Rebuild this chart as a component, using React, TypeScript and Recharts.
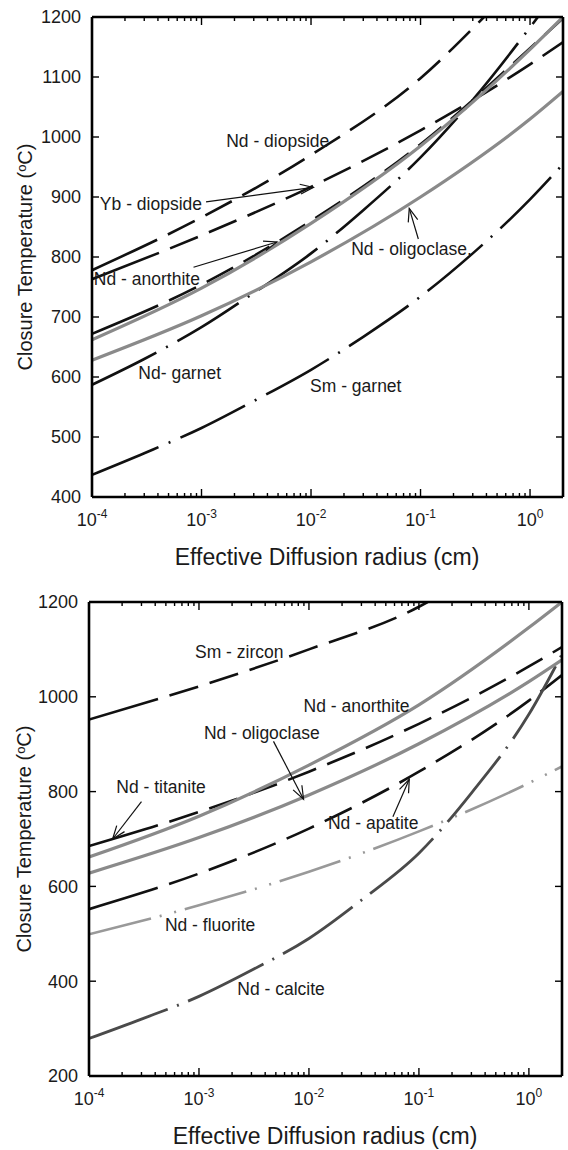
import React from 'react';
import { LineChart, Line, XAxis, YAxis, ReferenceLine, ReferenceDot } from 'recharts';

const FONT = '"Liberation Sans", Arial, Helvetica, sans-serif';

// ---------- axes ----------
const xMajorTicks = [1e-4, 1e-3, 1e-2, 1e-1, 1];
const xTickExponents = ['-4', '-3', '-2', '-1', '0'];
const xMinorMultipliers = [2, 3, 4, 5, 6, 7, 8, 9];
const xDomain: [number, number] = [1e-4, 2];
const topYTicks = [400, 500, 600, 700, 800, 900, 1000, 1100, 1200];
const bottomYTicks = [200, 400, 600, 800, 1000, 1200];
const xTitle = 'Effective Diffusion radius (cm)';

// ---------- top panel series: [radius (cm), closure T (°C)] ----------
const topNdDiopside: [number, number][] = [[1e-4, 778], [1e-3, 866], [1e-2, 970], [1e-1, 1098], [0.38, 1200]];
const topYbDiopside: [number, number][] = [[1e-4, 763], [1e-3, 836], [1e-2, 917], [1e-1, 1011], [1, 1121], [2, 1158]];
const topBlackDash: [number, number][] = [[1e-4, 672], [1e-3, 754], [1e-2, 860], [1e-1, 988], [1, 1148], [2, 1198]];
const topNdAnorthite: [number, number][] = [[1e-4, 662], [1e-3, 748], [1e-2, 856], [1e-1, 985], [1, 1146], [2, 1200]];
const topNdOligoclase: [number, number][] = [[1e-4, 628], [1e-3, 702], [1e-2, 792], [1e-1, 900], [1, 1030], [2, 1076]];
const topNdGarnet: [number, number][] = [[1e-4, 587], [3e-4, 630], [1e-3, 683], [3e-3, 740], [1e-2, 806], [3e-2, 878], [1e-1, 966], [3e-1, 1062], [1.18, 1200]];
const topSmGarnet: [number, number][] = [[1e-4, 437], [3e-4, 473], [1e-3, 515], [3e-3, 560], [1e-2, 612], [3e-2, 667], [1e-1, 734], [3e-1, 806], [1, 896], [2, 955]];

// ---------- bottom panel series ----------
const botSmZircon: [number, number][] = [[1e-4, 952], [1e-3, 1022], [1e-2, 1100], [1e-1, 1190], [0.12, 1200]];
const botNdAnorthite: [number, number][] = [[1e-4, 662], [1e-3, 748], [1e-2, 856], [1e-1, 983], [1, 1146], [2, 1200]];
const botNdOligoclase: [number, number][] = [[1e-4, 628], [1e-3, 703], [1e-2, 793], [1e-1, 901], [1, 1032], [2, 1078]];
const botNdTitanite: [number, number][] = [[1e-4, 685], [1e-3, 757], [1e-2, 842], [1e-1, 943], [1, 1064], [2, 1105]];
const botNdApatite: [number, number][] = [[1e-4, 552], [1e-3, 627], [1e-2, 722], [1e-1, 842], [1, 992], [2, 1046]];
const botNdFluorite: [number, number][] = [[1e-4, 499], [1e-3, 560], [1e-2, 631], [1e-1, 716], [1, 818], [2, 853]];
const botNdCalcite: [number, number][] = [[1e-4, 279], [3e-4, 320], [1e-3, 368], [3e-3, 423], [1e-2, 490], [3e-2, 571], [1e-1, 670], [3e-1, 797], [1, 963], [2, 1090]];

// ---------- annotations (data coordinates) ----------
const topLabels = [
  { text: 'Nd - diopside', x: 1.68e-3, y: 994 },
  { text: 'Yb - diopside', x: 1.18e-4, y: 889 },
  { text: 'Nd - anorthite', x: 1.04e-4, y: 764 },
  { text: 'Nd - oligoclase.', x: 0.0233, y: 814 },
  { text: 'Nd- garnet', x: 2.65e-4, y: 608 },
  { text: 'Sm - garnet', x: 9.8e-3, y: 586 },
];
const topArrows = [
  { from: [1.1e-3, 892], to: [0.0105, 916] },
  { from: [8.45e-4, 783], to: [4.89e-3, 825] },
  { from: [0.0955, 830], to: [0.0789, 881] },
];
const botLabels = [
  { text: 'Sm - zircon', x: 9.2e-4, y: 1096 },
  { text: 'Nd - anorthite', x: 8.93e-3, y: 981 },
  { text: 'Nd - oligoclase', x: 1.11e-3, y: 924 },
  { text: 'Nd - titanite', x: 1.77e-4, y: 810 },
  { text: 'Nd - apatite', x: 0.0149, y: 735 },
  { text: 'Nd - fluorite', x: 4.9e-4, y: 519 },
  { text: 'Nd - calcite', x: 2.23e-3, y: 385 },
];
const botArrows = [
  { from: [4.76e-3, 906], to: [8.93e-3, 784] },
  { from: [3.0e-4, 779], to: [1.64e-4, 700] },
  { from: [0.058, 747], to: [0.0817, 826] },
];

// ---------- styles ----------
const GRAY = '#8a8a8a';
const BLACK = '#111111';
const DASH = ['72 12', ...Array(24).fill('30 12')].join(' ');
const DASHDOT = '72 11 2 11';
const CALCITE_DASHDOT = '84 10 2 10';
const DASHDOTDOT = '64 9 2 13 2 9';

type Series = { name: string; pts: [number, number][]; color: string; width: number; dash?: string };

const topSeries: Series[] = [
  { name: 'Nd - diopside', pts: topNdDiopside, color: BLACK, width: 2.6, dash: DASH },
  { name: 'Yb - diopside', pts: topYbDiopside, color: BLACK, width: 2.6, dash: DASH },
  { name: 'black dash', pts: topBlackDash, color: BLACK, width: 2.6, dash: DASH },
  { name: 'Nd - garnet', pts: topNdGarnet, color: BLACK, width: 2.6, dash: DASHDOT },
  { name: 'Sm - garnet', pts: topSmGarnet, color: BLACK, width: 2.6, dash: DASHDOT },
  { name: 'Nd - anorthite', pts: topNdAnorthite, color: GRAY, width: 3.2 },
  { name: 'Nd - oligoclase', pts: topNdOligoclase, color: GRAY, width: 3.2 },
];
const botSeries: Series[] = [
  { name: 'Sm - zircon', pts: botSmZircon, color: BLACK, width: 2.6, dash: DASH },
  { name: 'Nd - titanite', pts: botNdTitanite, color: BLACK, width: 2.6, dash: DASH },
  { name: 'Nd - apatite', pts: botNdApatite, color: BLACK, width: 2.6, dash: DASH },
  { name: 'Nd - fluorite', pts: botNdFluorite, color: '#999999', width: 2.6, dash: DASHDOTDOT },
  { name: 'Nd - calcite', pts: botNdCalcite, color: '#4a4a4a', width: 2.8, dash: CALCITE_DASHDOT },
  { name: 'Nd - anorthite', pts: botNdAnorthite, color: GRAY, width: 3.2 },
  { name: 'Nd - oligoclase', pts: botNdOligoclase, color: GRAY, width: 3.2 },
];

const allXTicks: number[] = [];
xMajorTicks.forEach((m) => {
  allXTicks.push(m);
  xMinorMultipliers.forEach((k) => {
    if (m * k <= xDomain[1] + 1e-9) allXTicks.push(m * k);
  });
});

const majorIndex = (v: number) => xMajorTicks.findIndex((m) => Math.abs(v / m - 1) < 1e-6);

function BottomXTick(props: any) {
  const { x, y, payload } = props;
  const idx = majorIndex(payload.value);
  const major = idx >= 0;
  return (
    <g>
      <line x1={x} y1={y} x2={x} y2={y - (major ? 8 : 4)} stroke="#000" strokeWidth={1.4} />
      {major && (
        <text x={x} y={y + 29} textAnchor="middle" fontSize={18} fontFamily={FONT} fill="#1a1a1a">
          10<tspan dy={-8} fontSize={12}>{xTickExponents[idx]}</tspan>
        </text>
      )}
    </g>
  );
}

function TopXTick(props: any) {
  const { x, y, payload } = props;
  const major = majorIndex(payload.value) >= 0;
  return <line x1={x} y1={y} x2={x} y2={y + (major ? 8 : 4)} stroke="#000" strokeWidth={1.4} />;
}

function LeftYTick(props: any) {
  const { x, y, payload } = props;
  return (
    <g>
      <line x1={x} y1={y} x2={x + 7} y2={y} stroke="#000" strokeWidth={1.4} />
      <text x={x - 11} y={y} dy="0.36em" textAnchor="end" fontSize={18} fontFamily={FONT} fill="#1a1a1a">
        {payload.value}
      </text>
    </g>
  );
}

function RightYTick(props: any) {
  const { x, y } = props;
  return <line x1={x} y1={y} x2={x - 7} y2={y} stroke="#000" strokeWidth={1.4} />;
}

function ArrowShape(p: any) {
  const { x1, y1, x2, y2 } = p;
  const ang = Math.atan2(y2 - y1, x2 - x1);
  const L = 14;
  const a = 0.36;
  const ax = x2 - L * Math.cos(ang - a);
  const ay = y2 - L * Math.sin(ang - a);
  const bx = x2 - L * Math.cos(ang + a);
  const by = y2 - L * Math.sin(ang + a);
  return (
    <g>
      <line x1={x1} y1={y1} x2={x2} y2={y2} stroke="#111" strokeWidth={1.2} />
      <polyline points={`${ax},${ay} ${x2},${y2} ${bx},${by}`} fill="none" stroke="#111" strokeWidth={1.2} />
    </g>
  );
}

function makeLabelShape(text: string) {
  return (p: any) => (
    <text x={p.cx} y={p.cy} dy="0.36em" textAnchor="start" fontSize={17.5} fontFamily={FONT} fill="#1a1a1a">
      {text}
    </text>
  );
}

type Box = { top: number; right: number; bottom: number; left: number };
type PanelProps = {
  width: number;
  height: number;
  box: Box;
  yDomain: [number, number];
  yTicks: number[];
  series: Series[];
  labels: { text: string; x: number; y: number }[];
  arrows: { from: number[]; to: number[] }[];
};

const axisLineStyle = { stroke: '#000', strokeWidth: 2.6 };

function Panel({ width, height, box, yDomain, yTicks, series, labels, arrows }: PanelProps) {
  return (
    <LineChart width={width} height={height} margin={{ top: 0, right: 0, bottom: 0, left: 0 }}>
      <XAxis
        dataKey="x"
        type="number"
        scale="log"
        domain={xDomain}
        allowDataOverflow
        ticks={allXTicks}
        interval={0}
        tickSize={0}
        tickMargin={0}
        height={box.bottom}
        tickLine={false}
        axisLine={axisLineStyle}
        tick={(p: any) => <BottomXTick {...p} />}
      />
      <XAxis
        xAxisId="t"
        orientation="top"
        dataKey="x"
        type="number"
        scale="log"
        domain={xDomain}
        allowDataOverflow
        ticks={allXTicks}
        interval={0}
        tickSize={0}
        tickMargin={0}
        height={box.top}
        tickLine={false}
        axisLine={axisLineStyle}
        tick={(p: any) => <TopXTick {...p} />}
      />
      <YAxis
        type="number"
        domain={yDomain}
        allowDataOverflow
        ticks={yTicks}
        interval={0}
        tickSize={0}
        tickMargin={0}
        width={box.left}
        tickLine={false}
        axisLine={axisLineStyle}
        tick={(p: any) => <LeftYTick {...p} />}
      />
      <YAxis
        yAxisId="r"
        orientation="right"
        type="number"
        domain={yDomain}
        allowDataOverflow
        ticks={yTicks}
        interval={0}
        tickSize={0}
        tickMargin={0}
        width={box.right}
        tickLine={false}
        axisLine={axisLineStyle}
        tick={(p: any) => <RightYTick {...p} />}
      />
      {series.map((s) => (
        <Line
          key={s.name}
          data={s.pts.map(([x, y]) => ({ x, y }))}
          dataKey="y"
          type="monotone"
          stroke={s.color}
          strokeWidth={s.width}
          strokeDasharray={s.dash}
          dot={false}
          activeDot={false}
          isAnimationActive={false}
        />
      ))}
      {arrows.map((a, i) => (
        <ReferenceLine
          key={'a' + i}
          segment={[{ x: a.from[0], y: a.from[1] }, { x: a.to[0], y: a.to[1] }]}
          shape={(p: any) => <ArrowShape {...p} />}
          ifOverflow="visible"
        />
      ))}
      {labels.map((l) => (
        <ReferenceDot key={l.text} x={l.x} y={l.y} r={0} ifOverflow="visible" shape={makeLabelShape(l.text)} />
      ))}
    </LineChart>
  );
}

const yTitleStyle = (cx: number, cy: number): React.CSSProperties => ({
  position: 'absolute',
  left: cx,
  top: cy,
  transform: 'translate(-50%, -50%) rotate(-90deg)',
  whiteSpace: 'nowrap',
  fontFamily: FONT,
  fontSize: 20,
  lineHeight: '20px',
  color: '#1a1a1a',
});
const xTitleStyle = (cx: number, cy: number): React.CSSProperties => ({
  position: 'absolute',
  left: cx,
  top: cy,
  transform: 'translate(-50%, -50%)',
  whiteSpace: 'nowrap',
  fontFamily: FONT,
  fontSize: 23,
  lineHeight: '23px',
  color: '#1a1a1a',
});

function YTitle() {
  return (
    <span>
      Closure Temperature (<sup style={{ fontSize: 13, verticalAlign: 'top', lineHeight: '13px' }}>o</sup>C)
    </span>
  );
}

export default function App() {
  return (
    <div style={{ position: 'absolute', left: 0, top: 0, width: 568, height: 1150, background: '#fff', overflow: 'hidden' }}>
      <div style={{ position: 'absolute', left: 0, top: 0 }}>
        <Panel
          width={568}
          height={575}
          box={{ top: 17, right: 5, bottom: 78, left: 92 }}
          yDomain={[400, 1200]}
          yTicks={topYTicks}
          series={topSeries}
          labels={topLabels}
          arrows={topArrows}
        />
      </div>
      <div style={{ position: 'absolute', left: 0, top: 575 }}>
        <Panel
          width={568}
          height={575}
          box={{ top: 27, right: 6, bottom: 74, left: 89 }}
          yDomain={[200, 1200]}
          yTicks={bottomYTicks}
          series={botSeries}
          labels={botLabels}
          arrows={botArrows}
        />
      </div>
      <div style={yTitleStyle(25, 257)}><YTitle /></div>
      <div style={xTitleStyle(327, 557)}>{xTitle}</div>
      <div style={yTitleStyle(24, 839)}><YTitle /></div>
      <div style={xTitleStyle(325, 1136)}>{xTitle}</div>
    </div>
  );
}
